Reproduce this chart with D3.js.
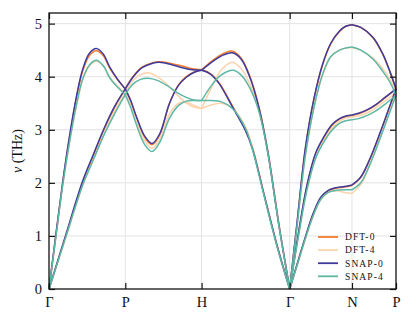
<!DOCTYPE html>
<html>
<head>
<meta charset="utf-8">
<script src="https://cdn.jsdelivr.net/npm/d3@7"></script>
<style>
  body { margin: 0; background: #fff; }
  text { font-family: "Liberation Serif", "DejaVu Serif", serif; fill: #111; }
</style>
</head>
<body>
<div id="chart"></div>
<script>
// bcc path Γ-P-H-Γ-N-P, segment lengths in units of 2π/a
const kLabels = ["Γ", "P", "H", "Γ", "N", "P"];
const segLengths = [0.866, 0.866, 1.0, 0.707, 0.5];
const yTicks = [0, 1, 2, 3, 4, 5];

const seriesNames = ["DFT-0", "DFT-4", "SNAP-0", "SNAP-4"];
const seriesColors = ["#f47b2b", "#fdd3ad", "#3f3b9c", "#5db7a5"];

// per series: one entry per path segment, each a list of branches of [fraction along segment, ν (THz)]
const dft0 = [
  [[[0,0],[0.09,1.0],[0.18,2.0],[0.28,2.95],[0.36,3.6],[0.44,4.1],[0.53,4.4],[0.62,4.49],[0.71,4.4],[0.8,4.15],[0.9,3.94],[1,3.77]],
   [[0,0],[0.22,1.0],[0.44,2.0],[0.58,2.5],[0.72,3.0],[0.86,3.42],[1,3.77]]],
  [[[0,3.77],[0.07,3.55],[0.15,3.22],[0.25,2.87],[0.35,2.72],[0.45,2.9],[0.58,3.5],[0.7,3.85],[0.8,4.0],[0.9,4.09],[1,4.13]],
   [[0,3.77],[0.1,4.0],[0.22,4.18],[0.35,4.26],[0.45,4.28],[0.6,4.25],[0.75,4.2],[0.88,4.15],[1,4.13]]],
  [[[0,4.13],[0.12,4.3],[0.25,4.44],[0.35,4.48],[0.45,4.35],[0.55,4.0],[0.65,3.44],[0.75,2.62],[0.88,1.2],[1,0]],
   [[0,4.13],[0.1,4.06],[0.2,3.88],[0.35,3.45],[0.5,3.0],[0.58,2.65],[0.7,1.85],[0.86,0.8],[1,0]]],
  [[[0,0],[0.12,1.25],[0.25,2.62],[0.39,3.57],[0.53,4.23],[0.66,4.62],[0.8,4.85],[0.9,4.95],[1,4.98]],
   [[0,0],[0.15,1.1],[0.28,1.95],[0.42,2.55],[0.55,2.85],[0.68,3.08],[0.8,3.2],[0.9,3.25],[1,3.27]],
   [[0,0],[0.13,0.5],[0.26,1.0],[0.38,1.42],[0.5,1.72],[0.62,1.85],[0.75,1.9],[0.88,1.92],[1,1.95]]],
  [[[0,4.98],[0.2,4.93],[0.48,4.73],[0.7,4.42],[0.86,4.1],[1,3.77]],
   [[0,3.27],[0.15,3.3],[0.35,3.37],[0.55,3.47],[0.75,3.6],[1,3.77]],
   [[0,1.95],[0.2,2.1],[0.4,2.43],[0.6,2.85],[0.8,3.3],[1,3.77]]]
];

const dft4 = [
  [[[0,0],[0.09,0.97],[0.18,1.95],[0.28,2.85],[0.36,3.45],[0.44,3.93],[0.53,4.2],[0.62,4.29],[0.71,4.2],[0.8,3.98],[0.9,3.82],[1,3.70]],
   [[0,0],[0.22,0.97],[0.44,1.95],[0.58,2.44],[0.72,2.93],[0.86,3.35],[1,3.70]]],
  [[[0,3.70],[0.07,3.48],[0.15,3.15],[0.25,2.8],[0.35,2.65],[0.45,2.82],[0.58,3.3],[0.7,3.5],[0.8,3.52],[0.9,3.46],[1,3.40]],
   [[0,3.70],[0.1,3.93],[0.2,4.04],[0.32,4.07],[0.42,4.0],[0.55,3.85],[0.68,3.66],[0.8,3.5],[0.9,3.43],[1,3.40]]],
  [[[0,3.40],[0.1,3.75],[0.22,4.12],[0.35,4.27],[0.45,4.15],[0.55,3.85],[0.65,3.38],[0.75,2.6],[0.88,1.18],[1,0]],
   [[0,3.40],[0.12,3.47],[0.22,3.5],[0.35,3.41],[0.5,3.05],[0.58,2.65],[0.7,1.85],[0.86,0.78],[1,0]]],
  [[[0,0],[0.12,1.2],[0.25,2.5],[0.39,3.42],[0.53,4.03],[0.66,4.37],[0.8,4.5],[0.9,4.54],[1,4.55]],
   [[0,0],[0.15,1.07],[0.28,1.9],[0.42,2.5],[0.55,2.8],[0.68,3.03],[0.8,3.16],[0.9,3.22],[1,3.24]],
   [[0,0],[0.13,0.48],[0.26,0.97],[0.38,1.38],[0.5,1.68],[0.62,1.82],[0.75,1.85],[0.88,1.82],[1,1.80]]],
  [[[0,4.55],[0.2,4.5],[0.48,4.35],[0.7,4.15],[0.86,3.95],[1,3.70]],
   [[0,3.24],[0.15,3.26],[0.35,3.32],[0.55,3.42],[0.75,3.54],[1,3.70]],
   [[0,1.80],[0.2,1.97],[0.4,2.33],[0.6,2.77],[0.8,3.23],[1,3.70]]]
];

const snap0 = [
  [[[0,0],[0.09,1.03],[0.18,2.02],[0.28,2.98],[0.36,3.63],[0.44,4.13],[0.53,4.44],[0.62,4.53],[0.71,4.43],[0.8,4.17],[0.9,3.95],[1,3.77]],
   [[0,0],[0.22,1.02],[0.44,2.03],[0.58,2.53],[0.72,3.02],[0.86,3.44],[1,3.77]]],
  [[[0,3.77],[0.07,3.55],[0.15,3.23],[0.25,2.89],[0.35,2.74],[0.45,2.92],[0.58,3.5],[0.7,3.84],[0.8,3.99],[0.9,4.08],[1,4.12]],
   [[0,3.77],[0.1,3.99],[0.22,4.17],[0.35,4.25],[0.45,4.27],[0.6,4.23],[0.75,4.17],[0.88,4.13],[1,4.12]]],
  [[[0,4.12],[0.12,4.28],[0.25,4.41],[0.35,4.45],[0.45,4.33],[0.55,3.98],[0.65,3.42],[0.75,2.6],[0.88,1.18],[1,0]],
   [[0,4.12],[0.1,4.05],[0.2,3.87],[0.35,3.43],[0.5,2.98],[0.58,2.63],[0.7,1.84],[0.86,0.8],[1,0]]],
  [[[0,0],[0.12,1.27],[0.25,2.64],[0.39,3.59],[0.53,4.24],[0.66,4.63],[0.8,4.86],[0.9,4.95],[1,4.98]],
   [[0,0],[0.15,1.12],[0.28,1.97],[0.42,2.57],[0.55,2.87],[0.68,3.1],[0.8,3.21],[0.9,3.26],[1,3.28]],
   [[0,0],[0.13,0.51],[0.26,1.01],[0.38,1.43],[0.5,1.73],[0.62,1.86],[0.75,1.91],[0.88,1.93],[1,1.96]]],
  [[[0,4.98],[0.2,4.93],[0.48,4.74],[0.7,4.43],[0.86,4.1],[1,3.77]],
   [[0,3.28],[0.15,3.31],[0.35,3.38],[0.55,3.48],[0.75,3.61],[1,3.77]],
   [[0,1.96],[0.2,2.11],[0.4,2.44],[0.6,2.86],[0.8,3.31],[1,3.77]]]
];

const snap4 = [
  [[[0,0],[0.09,0.98],[0.18,1.96],[0.28,2.86],[0.36,3.47],[0.44,3.95],[0.53,4.22],[0.62,4.31],[0.71,4.21],[0.8,3.97],[0.9,3.8],[1,3.66]],
   [[0,0],[0.22,0.98],[0.44,1.95],[0.58,2.43],[0.72,2.9],[0.86,3.3],[1,3.66]]],
  [[[0,3.66],[0.07,3.42],[0.15,3.08],[0.25,2.73],[0.35,2.59],[0.45,2.76],[0.58,3.22],[0.7,3.46],[0.8,3.54],[0.9,3.55],[1,3.55]],
   [[0,3.66],[0.1,3.86],[0.2,3.95],[0.3,3.97],[0.42,3.93],[0.55,3.83],[0.68,3.7],[0.8,3.61],[0.9,3.56],[1,3.55]]],
  [[[0,3.55],[0.12,3.85],[0.22,4.03],[0.36,4.12],[0.45,4.03],[0.55,3.78],[0.65,3.35],[0.75,2.58],[0.88,1.17],[1,0]],
   [[0,3.55],[0.12,3.55],[0.22,3.53],[0.35,3.4],[0.5,3.02],[0.58,2.62],[0.7,1.82],[0.86,0.78],[1,0]]],
  [[[0,0],[0.12,1.2],[0.25,2.5],[0.39,3.42],[0.53,4.05],[0.66,4.38],[0.8,4.5],[0.9,4.54],[1,4.56]],
   [[0,0],[0.15,1.06],[0.28,1.88],[0.42,2.47],[0.55,2.77],[0.68,2.99],[0.8,3.12],[0.9,3.17],[1,3.19]],
   [[0,0],[0.13,0.49],[0.26,0.98],[0.38,1.39],[0.5,1.69],[0.62,1.82],[0.75,1.86],[0.88,1.87],[1,1.87]]],
  [[[0,4.56],[0.2,4.5],[0.48,4.33],[0.7,4.1],[0.86,3.9],[1,3.65]],
   [[0,3.19],[0.15,3.21],[0.35,3.27],[0.55,3.36],[0.75,3.48],[1,3.65]],
   [[0,1.87],[0.2,2.0],[0.4,2.33],[0.6,2.75],[0.8,3.2],[1,3.65]]]
];

const allSeries = [dft0, dft4, snap0, snap4];

const svgWidth = 415;
const svgHeight = 322;
const margin = { top: 13, right: 19, bottom: 33, left: 49 };
const width = svgWidth - margin.left - margin.right;
const height = svgHeight - margin.top - margin.bottom;

// cumulative k at each high-symmetry point
const kPoints = [0];
segLengths.forEach(d => kPoints.push(kPoints[kPoints.length - 1] + d));

const svg = d3.select("#chart")
  .append("svg")
  .attr("width", svgWidth)
  .attr("height", svgHeight);

const chartGroup = svg.append("g")
  .attr("transform", `translate(${margin.left}, ${margin.top})`);

const x = d3.scaleLinear()
  .domain([0, kPoints[kPoints.length - 1]])
  .range([0, width]);

const y = d3.scaleLinear()
  .domain([0, 5.2])
  .range([height, 0]);

// grid
chartGroup.append("g")
  .selectAll("line")
  .data(yTicks.slice(1))
  .enter()
  .append("line")
  .attr("x1", 0).attr("x2", width)
  .attr("y1", d => y(d)).attr("y2", d => y(d))
  .attr("stroke", "#e3e3e3").attr("stroke-width", 1);

chartGroup.append("g")
  .selectAll("line")
  .data(kPoints.slice(1, -1))
  .enter()
  .append("line")
  .attr("x1", d => x(d)).attr("x2", d => x(d))
  .attr("y1", 0).attr("y2", height)
  .attr("stroke", "#e3e3e3").attr("stroke-width", 1);

// bands
const line = d3.line()
  .x(d => x(d[0]))
  .y(d => y(d[1]))
  .curve(d3.curveCatmullRom.alpha(0.5));

allSeries.forEach(function(series, i) {
  const g = chartGroup.append("g");
  series.forEach(function(branches, s) {
    branches.forEach(function(branch) {
      const pts = branch.map(p => [kPoints[s] + p[0] * segLengths[s], p[1]]);
      g.append("path")
        .attr("d", line(pts))
        .attr("fill", "none")
        .attr("stroke", seriesColors[i])
        .attr("stroke-width", 1.5);
    });
  });
});

// axes, ticks pointing inward
const tickFont = "14.5px";
const leftAxis = d3.axisLeft(y).tickValues(yTicks).tickSizeInner(-6).tickSizeOuter(0).tickPadding(7)
  .tickFormat(d3.format("d"));
const rightAxis = d3.axisRight(y).tickValues(yTicks).tickSizeInner(-6).tickSizeOuter(0).tickFormat("");
const bottomAxis = d3.axisBottom(x).tickValues(kPoints).tickSizeInner(-6).tickSizeOuter(0).tickPadding(8)
  .tickFormat((d, i) => kLabels[i]);
const topAxis = d3.axisTop(x).tickValues(kPoints).tickSizeInner(-6).tickSizeOuter(0).tickFormat("");

[
  chartGroup.append("g").call(leftAxis),
  chartGroup.append("g").attr("transform", `translate(${width},0)`).call(rightAxis),
  chartGroup.append("g").attr("transform", `translate(0,${height})`).call(bottomAxis),
  chartGroup.append("g").call(topAxis)
].forEach(function(ax) {
  ax.select(".domain").remove();
  ax.selectAll(".tick line").attr("stroke", "#111").attr("stroke-width", 1.2);
  ax.selectAll("text").attr("font-size", tickFont)
    .attr("font-family", "'Liberation Serif', serif").attr("fill", "#111");
});

chartGroup.append("rect")
  .attr("width", width).attr("height", height)
  .attr("fill", "none").attr("stroke", "#111").attr("stroke-width", 1.3);

// y label
svg.append("text")
  .attr("transform", "rotate(-90)")
  .attr("x", -(margin.top + height / 2))
  .attr("y", 22)
  .attr("text-anchor", "middle")
  .attr("font-size", "14px")
  .html('<tspan font-style="italic">ν</tspan> (THz)');

// legend
const legend = chartGroup.append("g")
  .attr("transform", `translate(${width - 78}, ${height - 52})`);

seriesNames.forEach(function(name, i) {
  const row = legend.append("g").attr("transform", `translate(0, ${i * 13.1})`);
  row.append("line")
    .attr("x1", 0).attr("x2", 20)
    .attr("y1", 0).attr("y2", 0)
    .attr("stroke", seriesColors[i]).attr("stroke-width", 1.8);
  row.append("text")
    .attr("x", 27).attr("y", 0).attr("dy", "0.35em")
    .attr("font-family", "'DejaVu Serif', serif")
    .attr("font-size", "9.5px")
    .attr("letter-spacing", "1.1px")
    .text(name);
});
</script>
</body>
</html>
